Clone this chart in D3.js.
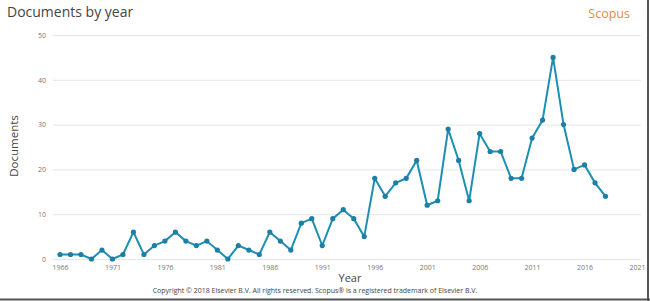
<!DOCTYPE html>
<html>
<head>
<meta charset="utf-8">
<script src="https://cdn.jsdelivr.net/npm/d3@7"></script>
<style>
  body { margin: 0; background: #fff; }
  text { font-family: "Open Sans", "DejaVu Sans", sans-serif; }
</style>
</head>
<body>
<script>
// chart data
var years = d3.range(1966, 2019);
var docs = [1, 1, 1, 0, 2, 0, 1, 6, 1, 3,
            4, 6, 4, 3, 4, 2, 0, 3, 2, 1,
            6, 4, 2, 8, 9, 3, 9, 11, 9, 5,
            18, 14, 17, 18, 22, 12, 13, 29, 22, 13,
            28, 24, 24, 18, 18, 27, 31, 45, 30, 20,
            21, 17, 14];
var xTicks = [1966, 1971, 1976, 1981, 1986, 1991, 1996, 2001, 2006, 2011, 2016, 2021];
var yTicks = [0, 10, 20, 30, 40, 50];

var width = 650;
var height = 301;

var svg = d3.select("body")
  .append("svg")
  .attr("width", width)
  .attr("height", height);

var x = d3.scaleLinear().domain([1966, 2021]).range([60, 637]);
var y = d3.scaleLinear().domain([0, 50]).range([259, 35]);

// frame on right and bottom
svg.append("line").attr("x1", 648).attr("x2", 648).attr("y1", 0).attr("y2", 301)
  .attr("stroke", "#555").attr("stroke-width", 2);
svg.append("line").attr("x1", 0).attr("x2", 650).attr("y1", 299.5).attr("y2", 299.5)
  .attr("stroke", "#555").attr("stroke-width", 2);

// grid
svg.selectAll(".grid")
  .data(yTicks)
  .enter().append("line")
    .attr("x1", 53)
    .attr("x2", 641)
    .attr("y1", function(d) { return y(d) + 0.5; })
    .attr("y2", function(d) { return y(d) + 0.5; })
    .attr("stroke", "#e6e6e6")
    .attr("stroke-width", 1);

// y axis labels
var yAxis = d3.axisLeft(y).tickValues(yTicks).tickSize(0).tickPadding(0);
svg.append("g")
  .attr("transform", "translate(46,0)")
  .call(yAxis)
  .call(function(g) { g.select(".domain").remove(); })
  .selectAll("text")
    .attr("font-size", 7)
    .attr("fill", "#777");

// x axis labels
var xAxis = d3.axisBottom(x).tickValues(xTicks).tickFormat(d3.format("d")).tickSize(0).tickPadding(0);
svg.append("g")
  .attr("transform", "translate(0,265)")
  .call(xAxis)
  .call(function(g) { g.select(".domain").remove(); })
  .selectAll("text")
    .attr("font-size", 7)
    .attr("fill", "#777");

// line + points
var line = d3.line()
  .x(function(d, i) { return x(years[i]); })
  .y(function(d) { return y(d); });

svg.append("path")
  .datum(docs)
  .attr("d", line)
  .attr("fill", "none")
  .attr("stroke", "#1c8fb3")
  .attr("stroke-width", 2);

svg.selectAll(".pt")
  .data(docs)
  .enter().append("circle")
    .attr("cx", function(d, i) { return x(years[i]); })
    .attr("cy", function(d) { return y(d); })
    .attr("r", 2.6)
    .attr("fill", "#1c7fa3");

// titles
svg.append("text")
  .attr("x", 7).attr("y", 17)
  .attr("font-size", 14)
  .attr("fill", "#444")
  .text("Documents by year");

svg.append("text")
  .attr("x", 630).attr("y", 18)
  .attr("text-anchor", "end")
  .attr("font-size", 12.5)
  .attr("fill", "#e38a3c")
  .text("Scopus");

svg.append("text")
  .attr("transform", "translate(18,146) rotate(-90)")
  .attr("text-anchor", "middle")
  .attr("font-size", 11.5)
  .attr("fill", "#444")
  .text("Documents");

svg.append("text")
  .attr("x", 350).attr("y", 282)
  .attr("text-anchor", "middle")
  .attr("font-size", 11)
  .attr("fill", "#444")
  .text("Year");

svg.append("text")
  .attr("x", 315).attr("y", 292.5)
  .attr("text-anchor", "middle")
  .attr("font-size", 7)
  .attr("fill", "#444")
  .text("Copyright \u00a9 2018 Elsevier B.V. All rights reserved. Scopus\u00ae is a registered trademark of Elsevier B.V.");
</script>
</body>
</html>
